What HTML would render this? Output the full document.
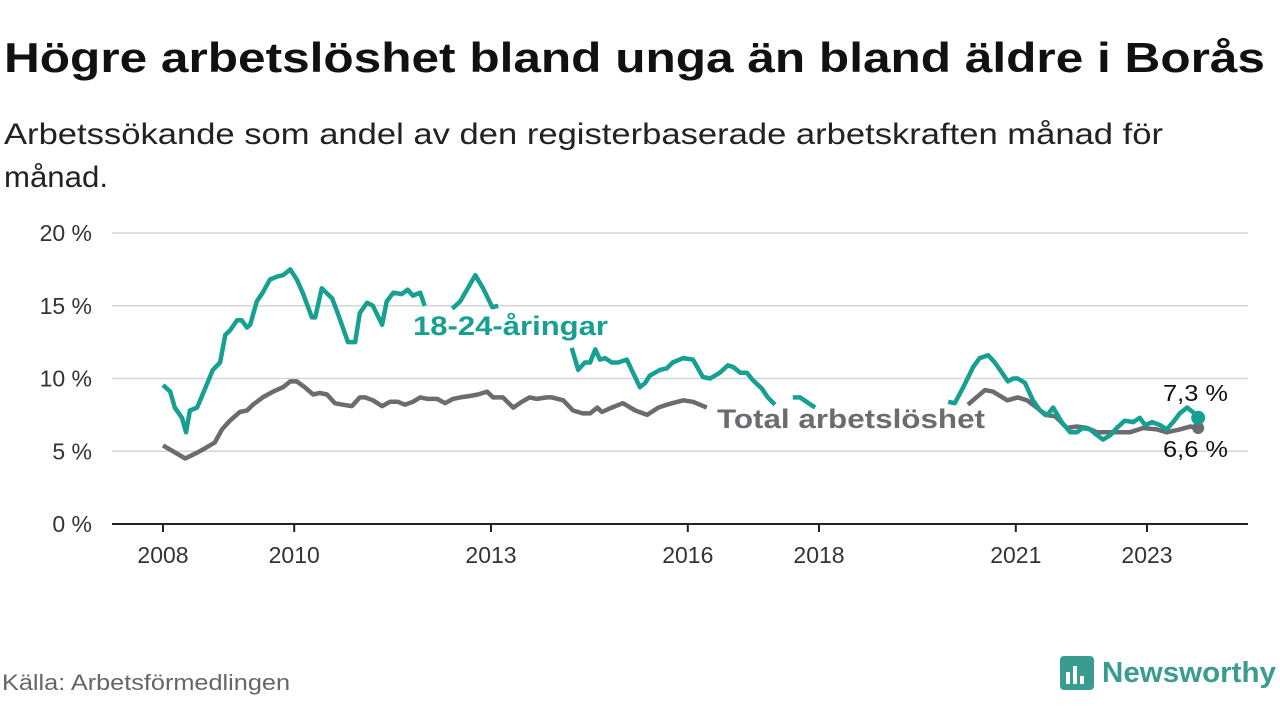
<!DOCTYPE html>
<html><head><meta charset="utf-8"><style>
body{margin:0;background:#fff;width:1280px;height:720px;overflow:hidden;font-family:"Liberation Sans",sans-serif}
</style></head><body>
<svg width="1280" height="720" style="font-family:'Liberation Sans',sans-serif">
<text x="4" y="72" font-size="42" font-weight="bold" fill="#111" textLength="1261" lengthAdjust="spacingAndGlyphs">Högre arbetslöshet bland unga än bland äldre i Borås</text>
<text x="4" y="144" font-size="30" fill="#222" textLength="1159" lengthAdjust="spacingAndGlyphs">Arbetssökande som andel av den registerbaserade arbetskraften månad för</text>
<text x="4" y="187" font-size="30" fill="#222" textLength="104" lengthAdjust="spacingAndGlyphs">månad.</text>
<g id="grid"></g><g id="lines"></g><g id="labels"></g>
<text x="2" y="690" font-size="22" fill="#666" textLength="288" lengthAdjust="spacingAndGlyphs">Källa: Arbetsförmedlingen</text>
<g>
<rect x="1060" y="656" width="34" height="34" rx="4" fill="#3a9c8e"/>
<rect x="1066" y="672" width="4" height="12" fill="#fff"/><rect x="1073" y="666" width="4" height="18" fill="#fff"/><rect x="1080" y="676" width="4" height="8" fill="#fff"/>
<text x="1102" y="682" font-size="29" font-weight="bold" fill="#3a9c8e" textLength="174" lengthAdjust="spacingAndGlyphs">Newsworthy</text>
</g>
</svg>
<script>
const yTicks=[0,5,10,15,20];
const xTickYears=[2008,2010,2013,2016,2018,2021,2023];
const youthT=[0,0.11,0.18,0.29,0.35,0.41,0.52,0.64,0.76,0.87,0.95,1.02,1.13,1.20,1.28,1.33,1.43,1.52,1.63,1.74,1.83,1.94,2.04,2.13,2.27,2.32,2.42,2.58,2.67,2.82,2.93,3.00,3.11,3.20,3.34,3.41,3.51,3.64,3.73,3.81,3.92,3.99,4.2,4.41,4.53,4.76,4.88,5.02,5.11,5.3,5.55,5.8,6.23,6.33,6.43,6.51,6.59,6.66,6.74,6.84,6.94,7.07,7.27,7.35,7.42,7.58,7.68,7.77,7.93,8.08,8.23,8.34,8.49,8.61,8.69,8.80,8.90,8.99,9.13,9.22,9.33,9.45,9.60,9.71,9.94,10.5,11.97,12.07,12.20,12.35,12.45,12.58,12.68,12.79,12.88,12.96,13.03,13.14,13.26,13.37,13.48,13.57,13.70,13.83,13.93,14.02,14.13,14.24,14.33,14.44,14.54,14.66,14.79,14.89,14.97,15.08,15.20,15.30,15.40,15.50,15.61,15.70,15.78];
const youthV=[9.55,9.1,8.0,7.3,6.3,7.8,8.0,9.3,10.6,11.1,13.0,13.3,14.0,14.0,13.5,13.7,15.3,15.9,16.8,17.0,17.1,17.5,16.8,15.9,14.2,14.2,16.2,15.5,14.4,12.5,12.5,14.5,15.2,15.0,13.7,15.3,15.9,15.8,16.1,15.7,15.9,15.0,null,14.8,15.3,17.1,16.2,14.9,15.0,null,14.9,null,12.1,10.6,11.1,11.1,12.0,11.3,11.4,11.1,11.1,11.3,9.4,9.7,10.2,10.6,10.7,11.1,11.4,11.3,10.1,10.0,10.4,10.9,10.8,10.4,10.4,9.9,9.3,8.7,8.2,null,8.7,8.7,8.0,null,8.4,8.3,9.4,10.8,11.4,11.6,11.1,10.4,9.8,10.0,10.0,9.7,8.5,7.8,7.5,8.0,7.0,6.3,6.3,6.6,6.5,6.1,5.8,6.1,6.6,7.1,7.0,7.3,6.8,7.0,6.8,6.5,7.0,7.6,8.0,7.7,7.3];
const totalT=[0,0.34,0.52,0.64,0.79,0.90,1.02,1.17,1.28,1.37,1.52,1.68,1.83,1.94,2.04,2.16,2.29,2.39,2.50,2.62,2.74,2.88,3.00,3.08,3.20,3.34,3.46,3.58,3.69,3.81,3.92,4.04,4.18,4.30,4.42,4.53,4.68,4.80,4.94,5.03,5.18,5.34,5.47,5.59,5.70,5.85,5.93,6.10,6.25,6.40,6.51,6.62,6.69,6.84,7.01,7.20,7.38,7.55,7.68,7.93,8.08,8.29,9,12.27,12.53,12.65,12.87,13.03,13.17,13.32,13.45,13.60,13.78,13.93,14.09,14.24,14.39,14.54,14.74,14.94,15.15,15.30,15.50,15.66,15.78];
const totalV=[5.4,4.5,4.9,5.2,5.6,6.5,7.1,7.7,7.8,8.2,8.7,9.1,9.4,9.8,9.8,9.4,8.9,9.0,8.9,8.3,8.2,8.1,8.7,8.7,8.5,8.1,8.4,8.4,8.2,8.4,8.7,8.6,8.6,8.3,8.6,8.7,8.8,8.9,9.1,8.7,8.7,8.0,8.4,8.7,8.6,8.7,8.7,8.5,7.8,7.6,7.6,8.0,7.7,8.0,8.3,7.8,7.5,8.0,8.2,8.5,8.4,8.0,null,8.2,9.2,9.1,8.5,8.7,8.5,8.0,7.5,7.4,6.6,6.7,6.6,6.3,6.3,6.3,6.3,6.6,6.5,6.3,6.5,6.7,6.6];
const NS='http://www.w3.org/2000/svg';
const xs=t=>163+t*65.6, xYear=y=>xs(y-2008), ys=v=>524-v*14.55;
function mk(tag,attrs,parent,text){const e=document.createElementNS(NS,tag);for(const k in attrs)e.setAttribute(k,attrs[k]);if(text!=null)e.textContent=text;parent.appendChild(e);return e;}
const grid=document.getElementById('grid');
yTicks.forEach(v=>{
 const l=mk('line',{x1:112,x2:1248,y1:ys(v),y2:ys(v),stroke:v===0?'#222':'#d6d6d6','stroke-width':v===0?2:1.5},grid);
 
 
 const t=mk('text',{x:92,y:ys(v)+8,'text-anchor':'end','font-size':23,fill:'#333'},grid,v+' %');
 
 
});
xTickYears.forEach(y=>{
 const tk=mk('line',{x1:xYear(y),x2:xYear(y),y1:524,y2:532,stroke:'#222','stroke-width':2},grid);
 
 
 const t=mk('text',{x:xYear(y),y:563,'text-anchor':'middle','font-size':23,fill:'#333'},grid,String(y));
 
 
});
function path(T,V){let d='',pen=false;T.forEach((t,i)=>{if(V[i]==null){pen=false;return;}d+=(pen?'L':'M')+xs(t).toFixed(1)+','+ys(V[i]).toFixed(1);pen=true;});return d;}
const lines=document.getElementById('lines');
const pt=mk('path',{d:path(totalT,totalV),fill:'none',stroke:'#6d6b70','stroke-width':4.5,'stroke-linejoin':'round'},lines);


const py=mk('path',{d:path(youthT,youthV),fill:'none',stroke:'#15a091','stroke-width':4.5,'stroke-linejoin':'round'},lines);


const lt=totalT.length-1, ly=youthT.length-1;
const dt=mk('circle',{cx:xs(totalT[lt]),cy:ys(totalV[lt]),r:6,fill:'#6d6b70'},lines);


const dy=mk('circle',{cx:xs(youthT[ly]),cy:ys(youthV[ly]),r:7,fill:'#15a091'},lines);


const lab=document.getElementById('labels');
const l1=mk('text',{x:413,y:335,'font-size':27,'font-weight':'bold',fill:'#15a091',textLength:195,lengthAdjust:'spacingAndGlyphs'},lab,'18-24-åringar');


const l2=mk('text',{x:717,y:428,'font-size':27,'font-weight':'bold',fill:'#6d6b70',textLength:268,lengthAdjust:'spacingAndGlyphs'},lab,'Total arbetslöshet');


const v1=mk('text',{x:1163,y:401,'font-size':23,fill:'#111',textLength:65,lengthAdjust:'spacingAndGlyphs'},lab,youthV[ly].toFixed(1).replace('.',',')+' %');


const v2=mk('text',{x:1163,y:457,'font-size':23,fill:'#111',textLength:65,lengthAdjust:'spacingAndGlyphs'},lab,totalV[lt].toFixed(1).replace('.',',')+' %');


</script>
</body></html>
